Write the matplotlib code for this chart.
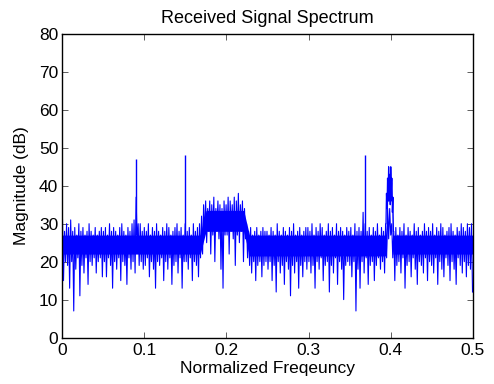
import numpy as np
import matplotlib
matplotlib.use("Agg")
import matplotlib.pyplot as plt

plt.rcParams["font.family"] = ["Liberation Sans", "DejaVu Sans"]

# upper / lower excursions of the noise floor, every 0.0025 in normalized frequency
noise_hi = [
    31, 28, 30, 29, 31, 28, 29, 27, 30, 28, 29, 27, 28, 30, 28, 27, 29, 27, 28, 29,
    28, 29, 27, 30, 28, 29, 28, 27, 29, 30, 28, 27, 29, 28, 30, 31, 37, 30, 30, 28,
    29, 28, 30, 27, 29, 28, 30, 28, 27, 29, 28, 30, 29, 27, 28, 29, 30, 28, 29, 27,
    30, 28, 29, 27, 30, 28, 29, 30, 32, 35, 36, 34, 36, 35, 37, 34, 36, 35, 34, 36,
    35, 37, 36, 35, 37, 36, 38, 35, 36, 34, 30, 28, 29, 27, 28, 29, 27, 28, 29, 28,
    28, 27, 29, 28, 27, 30, 28, 27, 29, 28, 27, 29, 28, 30, 27, 28, 29, 27, 28, 29,
    29, 28, 30, 27, 29, 28, 30, 29, 27, 28, 30, 28, 29, 27, 30, 28, 29, 28, 27, 29,
    28, 29, 27, 30, 28, 29, 28, 33, 30, 28, 29, 27, 29, 28, 30, 27, 29, 28, 30, 34,
    34, 30, 28, 29, 27, 29, 28, 30, 27, 29, 28, 27, 30, 28, 29, 27, 28, 30, 28, 29,
    28, 30, 27, 29, 28, 30, 29, 27, 28, 29, 30, 28, 27, 29, 28, 30, 29, 28, 30, 29,
    30,
]
noise_lo = [
    15, 20, 19, 13, 20, 7, 18, 21, 11, 19, 17, 21, 14, 20, 19, 21, 17, 20, 21, 16,
    20, 16, 21, 19, 13, 20, 18, 21, 15, 20, 19, 14, 21, 18, 20, 17, 25, 19, 20, 18,
    19, 21, 16, 20, 18, 13, 20, 19, 21, 15, 20, 18, 21, 14, 19, 20, 17, 21, 13, 20,
    20, 18, 21, 15, 20, 19, 16, 21, 22, 27, 25, 28, 22, 27, 20, 28, 26, 18, 13, 27,
    27, 22, 28, 26, 19, 27, 25, 28, 20, 26, 21, 19, 17, 20, 15, 19, 20, 16, 19, 20,
    18, 20, 15, 19, 12, 20, 17, 19, 14, 20, 18, 11, 19, 17, 20, 13, 19, 16, 20, 18,
    20, 17, 19, 13, 20, 18, 21, 15, 19, 20, 12, 19, 17, 21, 14, 20, 18, 10, 19, 20,
    19, 16, 20, 7, 18, 13, 20, 17, 21, 14, 19, 20, 15, 19, 21, 18, 20, 17, 21, 26,
    27, 21, 15, 19, 20, 17, 21, 13, 19, 20, 16, 21, 18, 14, 20, 19, 17, 21, 15, 20,
    19, 17, 21, 14, 20, 18, 16, 21, 19, 15, 20, 18, 14, 21, 19, 17, 20, 16, 19, 18,
    12,
]

# dense core of the floor (where the trace is solid)
core_freq = [0.0, 0.168, 0.175, 0.221, 0.228, 0.395, 0.3965, 0.4015, 0.403, 0.5]
core_lo = [22, 22, 28, 28, 21.5, 21.5, 36, 36, 22, 22]
core_hi = [27, 27, 33.5, 33.5, 27, 27, 41, 41, 27, 27]

# narrow tones sticking out of the floor
tone_freq = [0.0895, 0.149, 0.369]
tone_db = [47, 48, 48]

# narrowband signal around 0.4
peak_freq = [0.3945, 0.3951, 0.3958, 0.3964, 0.3971, 0.3977, 0.3984, 0.3990,
             0.3997, 0.4003, 0.4010, 0.4016, 0.4023, 0.4029, 0.4035]
peak_db = [30, 38, 34, 42, 36, 45, 38, 43, 35, 45, 39, 42, 33, 37, 28]

ys = np.empty(2 * len(noise_hi))
ys[0::2] = noise_hi
ys[1::2] = noise_lo
xs = np.linspace(0, 0.5, len(ys))

fig = plt.figure(figsize=(4.94, 3.84), dpi=100)
ax = fig.add_axes([0.1265, 0.121, 0.83, 0.7905])

ax.fill_between(core_freq, core_lo, core_hi, color="blue", linewidth=0)
ax.plot(xs, ys, color="blue", linewidth=0.8)
ax.vlines(tone_freq, 27, tone_db, color="blue", linewidth=1.0)
ax.plot(peak_freq, peak_db, color="blue", linewidth=0.9)

ax.set_xlim(0, 0.5)
ax.set_ylim(0, 80)
ax.set_xticks(np.arange(0, 0.51, 0.1))
ax.set_xticklabels(["0", "0.1", "0.2", "0.3", "0.4", "0.5"])
ax.set_yticks(range(0, 81, 10))
ax.tick_params(direction="in", top=True, right=True, length=4, labelsize=12.5,
               width=0.6, color="#444444")
ax.tick_params(axis="x", pad=4)
ax.tick_params(axis="y", pad=3)
for s in ax.spines.values():
    s.set_linewidth(1.0)
ax.set_xlabel("Normalized Freqeuncy", fontsize=12.5, labelpad=2)
ax.set_ylabel("Magnitude (dB)", fontsize=12.5, labelpad=7)
ax.set_title("Received Signal Spectrum", fontsize=13, pad=8)

fig.savefig("out.png", dpi=100)
